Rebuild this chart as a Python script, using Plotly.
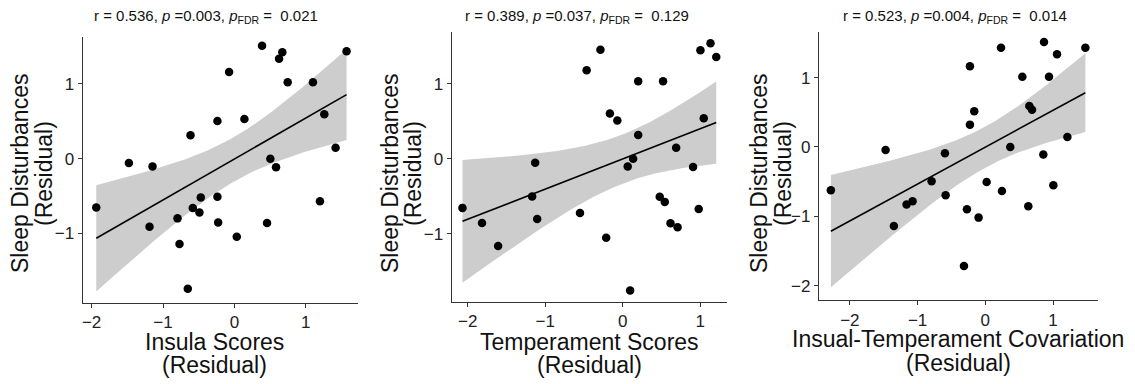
import numpy as np
import plotly.graph_objects as go

# The page body adds an 8px margin, so the figure is drawn 8px right/down.
OFF = 8
W, H = 1135 - OFF, 384 - OFF

# ---------------- data ----------------
insula_x = [-1.935, -1.478, -1.147, -1.189, -0.797, -0.769, -0.653, -0.615, -0.583, -0.471,
            -0.490, -0.238, -0.238, -0.228, -0.075, 0.033, 0.140, 0.387, 0.457, 0.503,
            0.583, 0.625, 0.671, 0.746, 1.100, 1.259, 1.198, 1.417, 1.571]
insula_y = [-0.652, -0.058, -0.103, -0.911, -0.799, -1.143, -1.741, 0.313, -0.661, -0.518,
            -0.719, 0.504, -0.509, -0.853, 1.161, -1.045, 0.531, 1.513, -0.862, 0.000,
            -0.116, 1.339, 1.424, 1.022, 1.022, 0.594, -0.571, 0.147, 1.438]

temper_x = [-2.067, -1.815, -1.607, -1.168, -1.129, -1.103, -0.551, -0.465, -0.287, -0.213,
            -0.165, -0.069, 0.065, 0.135, 0.096, 0.200, 0.200, 0.478, 0.543, 0.521,
            0.617, 0.690, 0.708, 0.908, 0.981, 1.003, 1.046, 1.133, 1.207]
temper_y = [-0.656, -0.857, -1.165, -0.504, -0.054, -0.804, -0.723, 1.179, 1.451, -1.054,
            0.603, 0.509, -0.103, 0.000, -1.759, 1.031, 0.317, -0.509, -0.576, 1.031,
            -0.862, 0.147, -0.915, -0.112, -0.670, 1.446, 0.540, 1.540, 1.357]

covar_x = [-2.281, -1.473, -1.350, -1.163, -1.074, -0.793, -0.596, -0.586, -0.315, -0.271,
           -0.227, -0.227, -0.163, -0.099, 0.020, 0.232, 0.246, 0.369, 0.547, 0.635,
           0.650, 0.690, 0.857, 0.867, 0.941, 1.005, 1.059, 1.212, 1.478]
covar_y = [-0.624, -0.043, -1.138, -0.830, -0.782, -0.494, -0.091, -0.696, -1.714, -0.898,
           1.162, 0.322, 0.514, -1.018, -0.504, 1.431, -0.634, 0.000, 1.013, -0.855,
           0.590, 0.538, -0.110, 1.512, 1.013, -0.552, 1.335, 0.144, 1.431]

panel_titles = [
    "r = 0.536, <i>p</i> =0.003, <i>p</i><sub>FDR</sub> =\u00a0\u00a00.021",
    "r = 0.389, <i>p</i> =0.037, <i>p</i><sub>FDR</sub> =\u00a0\u00a00.129",
    "r = 0.523, <i>p</i> =0.004, <i>p</i><sub>FDR</sub> =\u00a0\u00a00.014",
]
x_titles = ["Insula Scores", "Temperament Scores", "Insual-Temperament Covariation"]
x_title_line2 = "(Residual)"
y_title_lines = ["Sleep Disturbances", "(Residual)"]

x_ticks = [[-2, -1, 0, 1], [-2, -1, 0, 1], [-2, -1, 0, 1]]
y_ticks = [[-1, 0, 1], [-1, 0, 1], [-2, -1, 0, 1]]

# ---------------- layout geometry (screen pixels) ----------------
panels = [
    dict(x=insula_x, y=insula_y, px=(82.7, 358.0), py=(37.0, 302.7),
         xr=(-2.125, 1.731), yr=(-1.928, 1.629), tx=206, ytl=(20, 44), xtl=(214, 342, 365)),
    dict(x=temper_x, y=temper_y, px=(451.7, 726.7), py=(32.3, 301.7),
         xr=(-2.206, 1.342), yr=(-1.907, 1.685), tx=577, ytl=(390, 413), xtl=(589, 342, 365)),
    dict(x=covar_x, y=covar_y, px=(819.0, 1097.7), py=(31.7, 300.0),
         xr=(-2.456, 1.660), yr=(-2.205, 1.661), tx=955, ytl=(759, 783), xtl=(958, 339, 363)),
]


def fx(X):
    return (X - OFF) / W


def fy(Y):
    return 1 - (Y - OFF) / H


FONT = "Liberation Sans, Arial, sans-serif"
T95 = 2.0518  # t quantile, df = 27

fig = go.Figure()
layout = dict(width=W, height=H, margin=dict(l=0, r=0, t=0, b=0),
              paper_bgcolor="white", plot_bgcolor="white", showlegend=False,
              font=dict(family=FONT, color="black"))
annotations = []

for i, p in enumerate(panels):
    k = "" if i == 0 else str(i + 1)
    xa, ya = "x" + k, "y" + k
    x = np.array(p["x"]); y = np.array(p["y"])
    n = len(x)
    b1, b0 = np.polyfit(x, y, 1)
    resid = y - (b0 + b1 * x)
    s = np.sqrt(np.sum(resid ** 2) / (n - 2))
    xm = x.mean(); sxx = np.sum((x - xm) ** 2)
    xs = np.linspace(x.min(), x.max(), 100)
    fit = b0 + b1 * xs
    se = s * np.sqrt(1.0 / n + (xs - xm) ** 2 / sxx)
    lo, hi = fit - T95 * se, fit + T95 * se

    fig.add_trace(go.Scatter(x=np.concatenate([xs, xs[::-1]]), y=np.concatenate([hi, lo[::-1]]),
                             fill="toself", fillcolor="#cdcdcd", line=dict(width=0),
                             mode="lines", hoverinfo="skip", xaxis=xa, yaxis=ya))
    fig.add_trace(go.Scatter(x=xs, y=fit, mode="lines", line=dict(color="black", width=1.6),
                             xaxis=xa, yaxis=ya))
    fig.add_trace(go.Scatter(x=x, y=y, mode="markers",
                             marker=dict(color="black", size=8.5, line=dict(width=0)),
                             xaxis=xa, yaxis=ya))

    axstyle = dict(showgrid=False, zeroline=False, showline=True, linecolor="#333333",
                   linewidth=1.2, ticks="outside", ticklen=4, tickwidth=1, tickcolor="#333333",
                   tickfont=dict(size=17, color="#222222", family=FONT))
    layout["xaxis" + k] = dict(axstyle, domain=[fx(p["px"][0]), fx(p["px"][1])],
                               range=list(p["xr"]), tickvals=x_ticks[i], anchor=ya)
    layout["yaxis" + k] = dict(axstyle, domain=[fy(p["py"][1]), fy(p["py"][0])],
                               range=list(p["yr"]), tickvals=y_ticks[i], anchor=xa)

    # panel title
    annotations.append(dict(text=panel_titles[i], x=fx(p["tx"]), y=fy(17),
                            xref="paper", yref="paper", xanchor="center", yanchor="middle",
                            showarrow=False, font=dict(size=15, family=FONT, color="#111")))
    # x title (two lines)
    cx, l1, l2 = p["xtl"]
    annotations.append(dict(text=x_titles[i], x=fx(cx), y=fy(l1), xref="paper", yref="paper",
                            xanchor="center", yanchor="middle", showarrow=False,
                            font=dict(size=23, family=FONT, color="#111")))
    annotations.append(dict(text=x_title_line2, x=fx(cx), y=fy(l2), xref="paper", yref="paper",
                            xanchor="center", yanchor="middle", showarrow=False,
                            font=dict(size=23, family=FONT, color="#111")))
    # y title (two lines, rotated)
    for line, xc in zip(y_title_lines, p["ytl"]):
        annotations.append(dict(text=line, x=fx(xc), y=fy(174), xref="paper", yref="paper",
                                xanchor="center", yanchor="middle", textangle=-90,
                                showarrow=False, font=dict(size=23, family=FONT, color="#111")))

layout["annotations"] = annotations
fig.update_layout(**layout)
fig.write_html("out.html")
